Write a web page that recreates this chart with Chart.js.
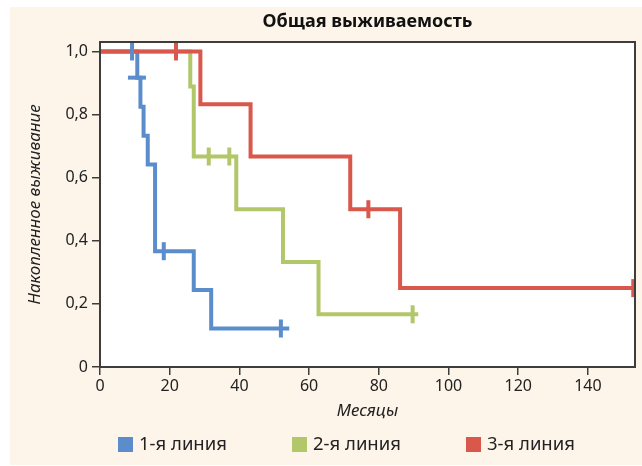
<!DOCTYPE html>
<html>
<head>
<meta charset="utf-8">
<script src="https://cdn.jsdelivr.net/npm/chart.js@4.4.0/dist/chart.umd.min.js"></script>
<style>
  html, body { margin: 0; padding: 0; background: #fff; overflow: hidden; }
  #wrap { position: relative; width: 642px; height: 466px; overflow: hidden; }
  #bg { position: absolute; left: 10px; top: 7px; width: 632px; height: 458px; background: #fdf5ea; }
  #c { position: absolute; left: 0; top: 0; }
  #legend { position: absolute; left: 0; top: 432px; width: 642px; font-family: "Noto Sans", sans-serif; font-size: 18.5px; color: #222; }
  .item { position: absolute; top: 0; line-height: 22px; white-space: nowrap; }
  .item span { display: inline-block; width: 15px; height: 15px; vertical-align: -2px; margin-right: 6px; }
</style>
</head>
<body>
<div id="wrap">
  <div id="bg"></div>
  <canvas id="c" width="648" height="466"></canvas>
  <div id="legend"></div>
</div>
<script>
// 1-я линия
var line1T = [0, 10.7, 11.6, 12.5, 13.7, 15.8, 26.9, 31.9, 54.3];
var line1S = [1, 0.917, 0.825, 0.733, 0.642, 0.367, 0.244, 0.122, 0.122];
var cens1T = [9.2, 10.6, 18.3, 51.9];
var cens1S = [1, 0.917, 0.367, 0.122];
// 2-я линия
var line2T = [0, 25.9, 26.9, 39.1, 52.5, 62.7, 91.3];
var line2S = [1, 0.889, 0.667, 0.5, 0.333, 0.167, 0.167];
var cens2T = [31.2, 37.1, 89.7];
var cens2S = [0.667, 0.667, 0.167];
// 3-я линия
var line3T = [0, 28.8, 43.2, 71.8, 86.1, 153];
var line3S = [1, 0.833, 0.667, 0.5, 0.25, 0.25];
var cens3T = [21.8, 77, 153];
var cens3S = [1, 0.5, 0.25];

var names = ["1-я линия", "2-я линия", "3-я линия"];
var colors = ["#5b8dcc", "#b2c76a", "#d9574b"];
var xTicks = [0, 20, 40, 60, 80, 100, 120, 140];
var yTicks = [0, 0.2, 0.4, 0.6, 0.8, 1.0];
var titleText = 'Общая выживаемость';

function pts(t, s) {
    return t.map(function (v, i) { return { x: v, y: s[i] }; });
}

function curve(t, s, color, order) {
    return {
        data: pts(t, s),
        borderColor: color,
        borderWidth: 4,
        stepped: 'before',
        pointRadius: 0,
        fill: false,
        order: order
    };
}

function censor(t, s, color, order, rot) {
    return {
        data: pts(t, s),
        showLine: false,
        pointStyle: 'line',
        pointRadius: 9,
        pointBorderWidth: 4,
        pointBorderColor: color,
        pointBackgroundColor: color,
        pointRotation: rot || 90,
        clip: false,
        order: order
    };
}

var font = "'Noto Sans', sans-serif";

// frame round the plot + title centred over the plot
var frame = {
    id: 'frame',
    afterDraw: function (chart) {
        var a = chart.chartArea, ctx = chart.ctx;
        ctx.save();
        ctx.strokeStyle = '#3d3d3d';
        ctx.lineWidth = 2;
        ctx.strokeRect(a.left, a.top, a.right - a.left, a.bottom - a.top);
        ctx.fillStyle = '#111';
        ctx.font = 'bold 18px ' + font;
        ctx.textAlign = 'center';
        ctx.textBaseline = 'middle';
        ctx.fillText(titleText, (a.left + a.right) / 2, 22);
        ctx.restore();
    }
};

var plotBg = {
    id: 'plotBg',
    beforeDraw: function (chart) {
        var a = chart.chartArea, ctx = chart.ctx;
        ctx.save();
        ctx.fillStyle = '#ffffff';
        ctx.fillRect(a.left, a.top, a.right - a.left, a.bottom - a.top);
        ctx.restore();
    }
};

new Chart(document.getElementById('c'), {
    type: 'line',
    data: {
        datasets: [
            curve(line2T, line2S, colors[1], 6),
            curve(line1T, line1S, colors[0], 5),
            curve(line3T, line3S, colors[2], 4),
            censor(cens2T, cens2S, colors[1], 3),
            censor(cens3T, cens3S, colors[2], 2),
            censor(cens1T, cens1S, colors[0], 1, [90, 0, 90, 90])
        ]
    },
    options: {
        responsive: false,
        animation: false,
        layout: { padding: { left: 0, right: 7, top: 42, bottom: 0 } },
        plugins: {
            legend: { display: false },
            tooltip: { enabled: false },
            title: { display: false }
        },
        scales: {
            x: {
                type: 'linear',
                min: 0,
                max: 153.5,
                afterBuildTicks: function (s) { s.ticks = xTicks.map(function (v) { return { value: v }; }); },
                afterFit: function (s) { s.height = 99; s.paddingLeft = 0; s.paddingRight = 0; },
                ticks: { color: '#222', font: { family: font, size: 16 }, padding: 2 },
                grid: { drawOnChartArea: false, tickLength: 8, color: '#3d3d3d', lineWidth: 1.5 },
                border: { display: true, color: '#3d3d3d', width: 2 },
                title: {
                    display: true, text: 'Месяцы', color: '#222',
                    font: { family: font, size: 17, style: 'italic' },
                    padding: { top: 4, bottom: 45 }
                }
            },
            y: {
                type: 'linear',
                min: 0,
                max: 1.03,
                afterBuildTicks: function (s) { s.ticks = yTicks.map(function (v) { return { value: v }; }); },
                afterFit: function (s) { s.width = 100; },
                ticks: {
                    color: '#222', font: { family: font, size: 16 }, padding: 4,
                    callback: function (v) { return v === 0 ? '0' : v.toFixed(1).replace('.', ','); }
                },
                grid: { drawOnChartArea: false, tickLength: 8, color: '#3d3d3d', lineWidth: 1.5 },
                border: { display: true, color: '#3d3d3d', width: 2 },
                title: {
                    display: true, text: 'Накопленное выживание', color: '#222',
                    font: { family: font, size: 17, style: 'italic' },
                    padding: { top: 25, bottom: 0 }
                }
            }
        }
    },
    plugins: [plotBg, frame]
});

// legend
var legend = document.getElementById('legend');
var lefts = [118, 292, 466];
names.forEach(function (n, i) {
    var d = document.createElement('div');
    d.className = 'item';
    d.style.left = lefts[i] + 'px';
    d.innerHTML = '<span style="background:' + colors[i] + '"></span>' + n;
    legend.appendChild(d);
});
</script>
</body>
</html>
